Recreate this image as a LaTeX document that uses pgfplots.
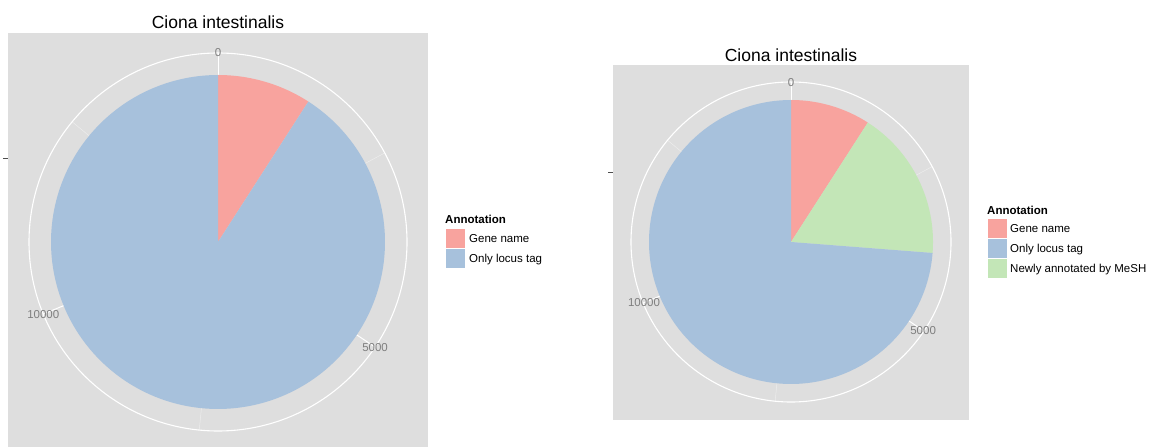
\documentclass[border=0pt]{standalone}
\usepackage{pgfplots}
\pgfplotsset{compat=1.18}
\usepackage{fontspec}
\setmainfont{Liberation Sans}
\definecolor{cpink}{HTML}{F8A39E}
\definecolor{cblue}{HTML}{A7C1DC}
\definecolor{cgreen}{HTML}{C3E6B7}
\definecolor{cpanel}{HTML}{DEDEDE}
\definecolor{ctick}{HTML}{7F7F7F}
\definecolor{cminor}{HTML}{EDEDED}
\definecolor{caxis}{HTML}{4D4D4D}
\newcommand\ft{\fontsize{11.5}{13}\selectfont}
\newcommand\ftt{\fontsize{17.5}{20}\selectfont}
% data (counts)
\def\geneL{1323}  \def\locusL{13217}
\def\geneR{1323}  \def\locusR{10726} \def\meshR{2491}
\pgfmathsetmacro{\totL}{\geneL+\locusL}
\pgfmathsetmacro{\totR}{\geneR+\locusR+\meshR}
\pgfmathsetmacro{\aGL}{\geneL/\totL*360}
\pgfmathsetmacro{\aGR}{\geneR/\totR*360}
\pgfmathsetmacro{\aMR}{(\geneR+\meshR)/\totR*360}
\pgfplotsset{pie/.style={x=1pt,y=1pt,axis lines=none,clip=false,anchor=origin,ticks=none}}
\begin{document}
\begin{tikzpicture}
\useasboundingbox (0,0) rectangle (1153pt,447pt);
% ---------------- left pie ----------------
\begin{axis}[pie, at={(218pt,205pt)}, xmin=-210, xmax=210, ymin=-205, ymax=209]
\fill[cpanel] (axis cs:-210,-205) rectangle (axis cs:210,209);
\pgfplotsinvokeforeach{2500,7500,12500}{
  \draw[cminor, line width=0.5pt] (axis cs:0,0) -- (axis cs:{189*sin(#1/\totL*360)},{189*cos(#1/\totL*360)});}
\pgfplotsinvokeforeach{0,5000,10000}{
  \draw[white, line width=1pt] (axis cs:0,0) -- (axis cs:{189*sin(#1/\totL*360)},{189*cos(#1/\totL*360)});}
\draw[white, line width=1.1pt] (axis cs:0,0) circle[radius=189pt];
\addplot[fill=cpink, draw=none, domain=0:\aGL, samples=60, variable=\t]
  ({167*sin(\t)},{167*cos(\t)}) -- (axis cs:0,0) -- cycle;
\addplot[fill=cblue, draw=none, domain=\aGL:360, samples=200, variable=\t]
  ({167*sin(\t)},{167*cos(\t)}) -- (axis cs:0,0) -- cycle;
\pgfplotsinvokeforeach{0,5000,10000}{
  \node[ctick, font=\ft, inner sep=0pt] at (axis cs:{189*sin(#1/\totL*360)},{189*cos(#1/\totL*360)}) {#1};}
\node[font=\ftt, anchor=base, inner sep=0pt] at (axis cs:0,213.5) {Ciona intestinalis};
\draw[caxis, line width=0.6pt] (axis cs:-215,84) -- (axis cs:-210,84);
% legend
\node[font=\ft\bfseries, anchor=base west, inner sep=0pt] at (axis cs:227,18.8) {Annotation};
\fill[cpink, draw=white, line width=0.8pt] (axis cs:227,14) rectangle (axis cs:247,-6);
\fill[cblue, draw=white, line width=0.8pt] (axis cs:227,-6) rectangle (axis cs:247,-26);
\node[font=\ft, anchor=base west, inner sep=0pt] at (axis cs:251,-0.1) {Gene name};
\node[font=\ft, anchor=base west, inner sep=0pt] at (axis cs:251,-20.1) {Only locus tag};
\end{axis}
% ---------------- right pie ----------------
\begin{axis}[pie, at={(791pt,205pt)}, xmin=-178, xmax=178, ymin=-178, ymax=177]
\fill[cpanel] (axis cs:-178,-178) rectangle (axis cs:178,177);
\pgfplotsinvokeforeach{2500,7500,12500}{
  \draw[cminor, line width=0.5pt] (axis cs:0,0) -- (axis cs:{160*sin(#1/\totR*360)},{160*cos(#1/\totR*360)});}
\pgfplotsinvokeforeach{0,5000,10000}{
  \draw[white, line width=1pt] (axis cs:0,0) -- (axis cs:{160*sin(#1/\totR*360)},{160*cos(#1/\totR*360)});}
\draw[white, line width=1.1pt] (axis cs:0,0) circle[radius=160pt];
\addplot[fill=cpink, draw=none, domain=0:\aGR, samples=60, variable=\t]
  ({142*sin(\t)},{142*cos(\t)}) -- (axis cs:0,0) -- cycle;
\addplot[fill=cgreen, draw=none, domain=\aGR:\aMR, samples=80, variable=\t]
  ({142*sin(\t)},{142*cos(\t)}) -- (axis cs:0,0) -- cycle;
\addplot[fill=cblue, draw=none, domain=\aMR:360, samples=200, variable=\t]
  ({142*sin(\t)},{142*cos(\t)}) -- (axis cs:0,0) -- cycle;
\pgfplotsinvokeforeach{0,5000,10000}{
  \node[ctick, font=\ft, inner sep=0pt] at (axis cs:{159*sin(#1/\totR*360)},{159*cos(#1/\totR*360)}) {#1};}
\node[font=\ftt, anchor=base, inner sep=0pt] at (axis cs:0,180.5) {Ciona intestinalis};
\draw[caxis, line width=0.6pt] (axis cs:-183,70) -- (axis cs:-178,70);
% legend
\node[font=\ft\bfseries, anchor=base west, inner sep=0pt] at (axis cs:196,27.8) {Annotation};
\fill[cpink, draw=white, line width=0.8pt] (axis cs:196,24) rectangle (axis cs:216,4);
\fill[cblue, draw=white, line width=0.8pt] (axis cs:196,4) rectangle (axis cs:216,-16);
\fill[cgreen, draw=white, line width=0.8pt] (axis cs:196,-16) rectangle (axis cs:216,-36);
\node[font=\ft, anchor=base west, inner sep=0pt] at (axis cs:219,9.9) {Gene name};
\node[font=\ft, anchor=base west, inner sep=0pt] at (axis cs:219,-10.1) {Only locus tag};
\node[font=\ft, anchor=base west, inner sep=0pt] at (axis cs:219,-30.1) {Newly annotated by MeSH};
\end{axis}
\end{tikzpicture}
\end{document}
